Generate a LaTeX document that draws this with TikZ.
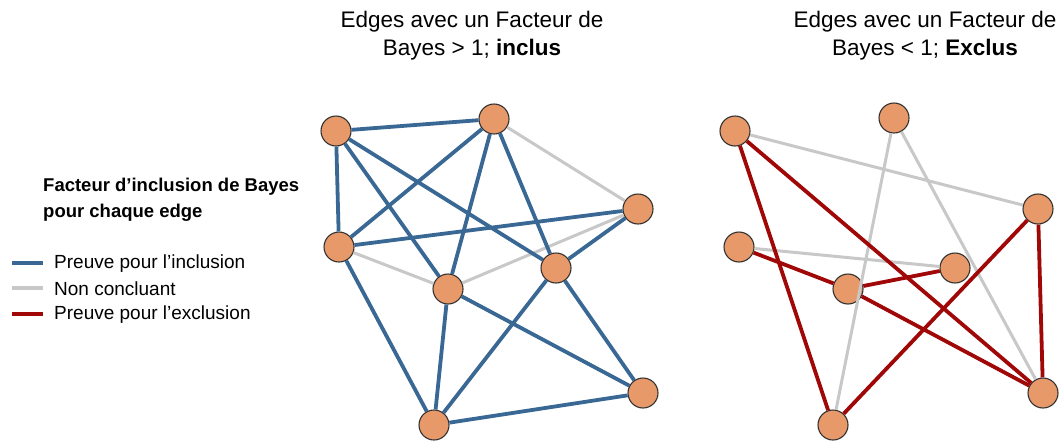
\documentclass[tikz,border=0pt]{standalone}
\usepackage{fontspec}
\setmainfont{Liberation Sans}
\definecolor{incl}{RGB}{58,104,148}
\definecolor{nonc}{RGB}{200,200,200}
\definecolor{excl}{RGB}{160,8,8}
\definecolor{nodefill}{RGB}{232,153,106}
\definecolor{nodeline}{RGB}{50,50,50}
\begin{document}
\begin{tikzpicture}[x=1pt,y=-1pt,
  vnode/.style={circle,draw=nodeline,fill=nodefill,line width=1.1pt,minimum size=30pt,inner sep=0pt},
  ein/.style={draw=incl,line width=3.8pt},
  enc/.style={draw=nonc,line width=3pt},
  eex/.style={draw=excl,line width=3.8pt},
  ttl/.style={align=center,font=\fontsize{22.5}{28}\selectfont},
  lgd/.style={anchor=west,font=\fontsize{19}{23}\selectfont,inner sep=0pt}]
\useasboundingbox (0,0) rectangle (1062,442);
% titles
\node[ttl] (t1) at (472,36) {Edges avec un Facteur de\\Bayes > 1; \textbf{inclus}};
\node[ttl] (t2) at (925,36) {Edges avec un Facteur de\\Bayes < 1; \textbf{Exclus}};
% legend
\node[anchor=west,align=left,inner sep=0pt,font=\bfseries\fontsize{18.5}{26}\selectfont] (lh) at (43,200) {Facteur d’inclusion de Bayes\\pour chaque edge};
\coordinate (la1) at (12,263); \coordinate (lb1) at (43,263);
\coordinate (la2) at (12,288); \coordinate (lb2) at (43,288);
\coordinate (la3) at (12,314); \coordinate (lb3) at (43,314);
\draw[ein] (la1) -- (lb1);
\draw[enc,line width=3.8pt] (la2) -- (lb2);
\draw[eex] (la3) -- (lb3);
\node[lgd] (l1) at (54,264) {Preuve pour l’inclusion};
\node[lgd] (l2) at (54,289) {Non concluant};
\node[lgd] (l3) at (54,315) {Preuve pour l’exclusion};
% left graph
\node[vnode] (L1) at (336,131) {};
\node[vnode] (L2) at (494,119) {};
\node[vnode] (L3) at (638,209) {};
\node[vnode] (L4) at (339,247) {};
\node[vnode] (L5) at (448,289) {};
\node[vnode] (L6) at (556,268) {};
\node[vnode] (L7) at (643,393) {};
\node[vnode] (L8) at (434,425) {};
\draw[enc] (L2) -- (L3);
\draw[enc] (L3) -- (L5);
\draw[enc] (L4) -- (L5);
\draw[ein] (L1) -- (L2);
\draw[ein] (L1) -- (L4);
\draw[ein] (L1) -- (L5);
\draw[ein] (L1) -- (L6);
\draw[ein] (L2) -- (L4);
\draw[ein] (L2) -- (L5);
\draw[ein] (L2) -- (L6);
\draw[ein] (L3) -- (L4);
\draw[ein] (L3) -- (L6);
\draw[ein] (L4) -- (L8);
\draw[ein] (L5) -- (L8);
\draw[ein] (L5) -- (L7);
\draw[ein] (L6) -- (L8);
\draw[ein] (L6) -- (L7);
\draw[ein] (L8) -- (L7);
% right graph
\node[vnode] (R1) at (735,131) {};
\node[vnode] (R2) at (894,118) {};
\node[vnode] (R3) at (1038,209) {};
\node[vnode] (R4) at (739,247) {};
\node[vnode] (R5) at (848,289) {};
\node[vnode] (R6) at (955,268) {};
\node[vnode] (R7) at (1043,393) {};
\node[vnode] (R8) at (833,425) {};
\draw[enc] (R1) -- (R3);
\draw[enc] (R2) -- (R8);
\draw[enc] (R2) -- (R7);
\draw[enc] (R4) -- (R6);
\draw[eex] (R1) -- (R8);
\draw[eex] (R1) -- (R7);
\draw[eex] (R4) -- (R5);
\draw[eex] (R5) -- (R6);
\draw[eex] (R5) -- (R7);
\draw[eex] (R3) -- (R8);
\draw[eex] (R3) -- (R7);
\end{tikzpicture}
\end{document}
